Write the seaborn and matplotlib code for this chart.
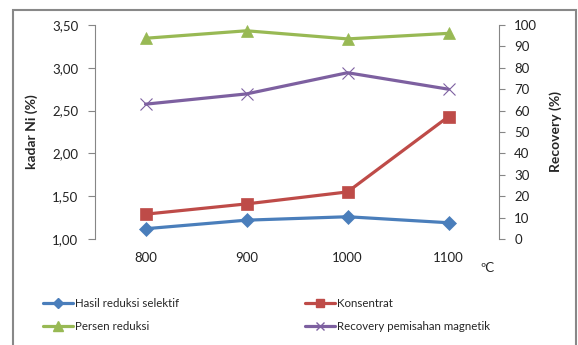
import matplotlib
matplotlib.use("Agg")
import matplotlib.pyplot as plt
from matplotlib.ticker import FuncFormatter, MultipleLocator
from matplotlib.patches import Rectangle
from matplotlib.lines import Line2D
import seaborn as sns
import pandas as pd

# Temperature categories (ºC)
temperatures = ["800", "900", "1000", "1100"]

# Ni grade (%) – left axis
hasil_reduksi_selektif = [1.12, 1.22, 1.26, 1.19]
konsentrat = [1.29, 1.41, 1.55, 2.43]

# Recovery (%) – right axis
persen_reduksi = [93.8, 97.3, 93.5, 96.1]
recovery_pemisahan_magnetik = [63.0, 67.8, 77.7, 70.0]

series_left = [
    ("Hasil reduksi selektif", hasil_reduksi_selektif, "#4A7EBB", "D", 7),
    ("Konsentrat", konsentrat, "#BE4B48", "s", 8),
]
series_right = [
    ("Persen reduksi", persen_reduksi, "#98B954", "^", 9),
    ("Recovery pemisahan magnetik", recovery_pemisahan_magnetik, "#7D60A0", "x", 8),
]

sns.set_style("white")
plt.rcParams["font.family"] = ["Lato", "DejaVu Sans"]

fig = plt.figure(figsize=(5.78, 3.45), dpi=100)
ax = fig.add_axes([95 / 578, 1 - 239 / 345, 404 / 578, 214 / 345])
ax2 = ax.twinx()

pos = list(range(len(temperatures)))


def draw(axis, name, values, color, marker, ms):
    df = pd.DataFrame({"pos": pos, "val": values})
    sns.lineplot(data=df, x="pos", y="val", ax=axis, color=color, lw=2.3,
                 marker=marker, markersize=ms, markeredgecolor=color,
                 markeredgewidth=0.8 if marker == "x" else 0.5,
                 label=name, legend=False)


for name, vals, color, marker, ms in series_left:
    draw(ax, name, vals, color, marker, ms)
for name, vals, color, marker, ms in series_right:
    draw(ax2, name, vals, color, marker, ms)

tick_fs = 9.5
text_color = "#222222"

ax.set_xlim(-0.5, 3.5)
ax.set_ylim(1.0, 3.5)
ax2.set_ylim(0, 100)
ax.set_xticks(pos)
ax.set_xticklabels(temperatures)
ax.tick_params(axis="x", length=0, pad=9, labelsize=tick_fs, colors=text_color)

ax.yaxis.set_major_locator(MultipleLocator(0.5))
ax.yaxis.set_major_formatter(FuncFormatter(lambda v, _: f"{v:.2f}".replace(".", ",")))
ax.tick_params(axis="y", direction="out", length=5, width=0.8, color="#868686",
               labelsize=tick_fs, pad=7, labelcolor=text_color)
ax2.yaxis.set_major_locator(MultipleLocator(10))
ax2.tick_params(axis="y", direction="out", length=4, width=0.8, color="#868686",
                labelsize=tick_fs, pad=7, labelcolor=text_color)

for a in (ax, ax2):
    a.set_xlabel("")
    for s in ("top", "bottom"):
        a.spines[s].set_visible(False)
ax.spines["right"].set_visible(False)
ax2.spines["left"].set_visible(False)
ax.spines["left"].set_color("#868686")
ax2.spines["right"].set_color("#868686")
ax.spines["left"].set_linewidth(0.8)
ax2.spines["right"].set_linewidth(0.8)

ax.set_ylabel("kadar Ni (%)", fontsize=10, fontweight="bold", labelpad=10)
ax2.set_ylabel("Recovery (%)", fontsize=10, fontweight="bold", labelpad=9)

fig.text(487 / 578, 1 - 268 / 345, "ºC", fontsize=9.5, ha="center", va="center")

# Legend below the plot
order = [series_left[0], series_right[0], series_left[1], series_right[1]]
handles = [Line2D([], [], color=c, lw=2.3, marker=m, markersize=ms * 0.75,
                  markeredgecolor=c) for _, _, c, m, ms in order]
labels = [name for name, *_ in order]
fig.legend(handles, labels, ncol=2, loc="upper left",
           bbox_to_anchor=(38 / 578, 1 - 293 / 345), frameon=False,
           fontsize=8.3, handlelength=2.6, handletextpad=0.2,
           columnspacing=10.9, labelspacing=1.1, borderaxespad=0)

# Outer chart frame
fig.patches.append(Rectangle((13 / 578, -0.05), (576 - 13) / 578, (1 - 10 / 345) + 0.05,
                             transform=fig.transFigure, fill=False,
                             edgecolor="#888888", lw=1.5))

fig.savefig("out.png", dpi=100)
